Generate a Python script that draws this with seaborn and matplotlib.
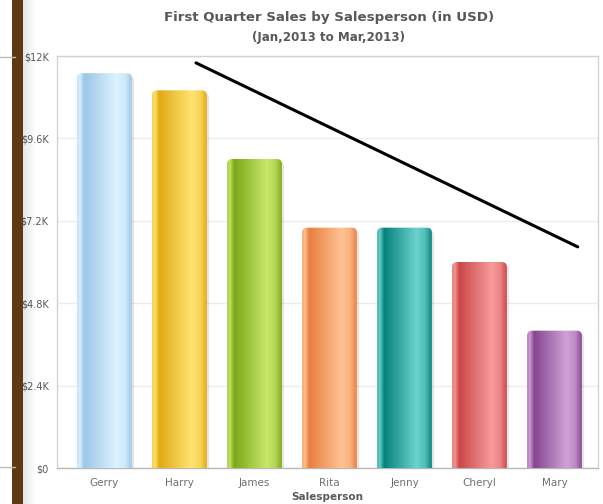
import numpy as np
import pandas as pd
import matplotlib
matplotlib.use("Agg")
import matplotlib.pyplot as plt
import matplotlib.colors as mcolors
from matplotlib.patches import FancyBboxPatch, Rectangle
from matplotlib.lines import Line2D
import seaborn as sns

# ---- data ----
salespeople = ["Gerry", "Harry", "James", "Rita", "Jenny", "Cheryl", "Mary"]
sales = [11500, 11000, 9000, 7000, 7000, 6000, 4000]
dark_colors = ["#9CC6E8", "#E0AA14", "#7AA816", "#E8803E", "#07817B", "#C94748", "#85458F"]
light_colors = ["#DDF3FF", "#FFE470", "#C8E66A", "#FFC294", "#6CD2CD", "#F79A9A", "#CFA2D6"]
yticks = [0, 2400, 4800, 7200, 9600, 12000]
ytick_labels = ["$0", "$2.4K", "$4.8K", "$7.2K", "$9.6K", "$12K"]
trend_x = [1.22, 6.31]
trend_y = [11800, 6440]
title = "First Quarter Sales by Salesperson (in USD)"
subtitle = "(Jan,2013 to Mar,2013)"
xlabel = "Salesperson"

W, H = 603, 504
sns.set_theme(style="white")
plt.rcParams['font.family'] = ['DejaVu Sans']
fig = plt.figure(figsize=(W / 100, H / 100), dpi=100)
fig.patch.set_facecolor("white")

# axes in pixel layout
left_px, right_px, top_px, bot_px = 57, 598, 56, 468
ax = fig.add_axes([left_px / W, 1 - bot_px / H, (right_px - left_px) / W, (bot_px - top_px) / H])

df = pd.DataFrame({"name": salespeople, "sales": sales})
sns.barplot(data=df, x="name", y="sales", hue="name", palette=dark_colors,
            legend=False, width=0.73, ax=ax, saturation=1)

c0, step = 104.5, 75.0
ax.set_xlim((left_px - c0) / step, (right_px - c0) / step)
ax.set_ylim(0, 12000)

# gradient bars
weights_t = [0.0, 0.05, 0.13, 0.72, 0.88, 1.0]
weights_w = [0.55, 0.95, 0.0, 1.0, 0.75, 0.05]
t = np.linspace(0, 1, 200)
w = np.interp(t, weights_t, weights_w)
px_per_x = step
px_per_y = (bot_px - top_px) / 12000
r_px = 5
rx = r_px / px_per_x
ry = r_px / px_per_y
for i, p in enumerate(list(ax.patches)):
    x0 = p.get_x()
    bw = p.get_width()
    h = p.get_height()
    p.set_visible(False)
    d = np.array(mcolors.to_rgb(dark_colors[i]))
    l = np.array(mcolors.to_rgb(light_colors[i]))
    img = (d[None, :] * (1 - w[:, None]) + l[None, :] * w[:, None])[None, :, :]
    box = FancyBboxPatch((x0, -ry * 2), bw, h + ry * 2,
                         boxstyle=f"round,pad=0,rounding_size={rx}",
                         mutation_aspect=ry / rx,
                         facecolor="none", edgecolor="none", zorder=3)
    ax.add_patch(box)
    im = ax.imshow(img, extent=(x0, x0 + bw, -ry * 2, h), aspect="auto",
                   interpolation="bilinear", zorder=3)
    im.set_clip_path(box)
    sh = FancyBboxPatch((x0 + 0.03, -ry * 2), bw, h + ry * 2 - 80,
                        boxstyle=f"round,pad=0,rounding_size={rx}",
                        mutation_aspect=ry / rx,
                        facecolor="#000000", alpha=0.10, edgecolor="none", zorder=2.5)
    ax.add_patch(sh)
ax.set_xlim((left_px - c0) / step, (right_px - c0) / step)
ax.set_ylim(0, 12000)

# trend line
sns.lineplot(x=trend_x, y=trend_y, color="black", linewidth=2.2, ax=ax, zorder=5)

# grid / ticks
ax.set_yticks(yticks)
ax.set_yticklabels(ytick_labels)
ax.yaxis.grid(True, color="#EDEDED", linewidth=1)
ax.set_axisbelow(True)
ax.tick_params(axis="y", length=0, pad=6, labelsize=7, labelcolor="#5A5A5A")
ax.tick_params(axis="x", length=0, pad=7, labelsize=7.5, labelcolor="#707070")
ax.set_xlabel(xlabel, fontsize=7.5, fontweight="bold", color="#5A5A5A", labelpad=3)
ax.set_ylabel("")
for s in ["top", "left", "right"]:
    ax.spines[s].set_color("#D2D2D2")
    ax.spines[s].set_linewidth(1.0)
ax.spines["bottom"].set_color("#B8B8B8")
ax.spines["bottom"].set_linewidth(1.0)

# titles
cx = 329.5 / W
fig.text(cx, 1 - 17 / H, title, ha="center", va="center", fontsize=9.6,
         fontweight="bold", color="#585858")
fig.text(cx - 1.5 / W, 1 - 38 / H, subtitle, ha="center", va="center", fontsize=8.6,
         fontweight="bold", color="#585858")

# page decoration: brown side bar with shadow, and stray page lines
for y in [57, 467]:
    fig.add_artist(Line2D([0, 15 / W], [1 - y / H, 1 - y / H], color="#BBBBBB", lw=1))
for k in range(12):
    fig.add_artist(Rectangle(((23 + k) / W, 0), 1 / W, 1, transform=fig.transFigure,
                             facecolor="#000000", alpha=0.10 * (1 - k / 12), edgecolor="none"))
fig.add_artist(Rectangle((12 / W, 0), 11 / W, 1, transform=fig.transFigure,
                         facecolor="#5E3A14", edgecolor="none"))

fig.savefig("out.png", dpi=100)
